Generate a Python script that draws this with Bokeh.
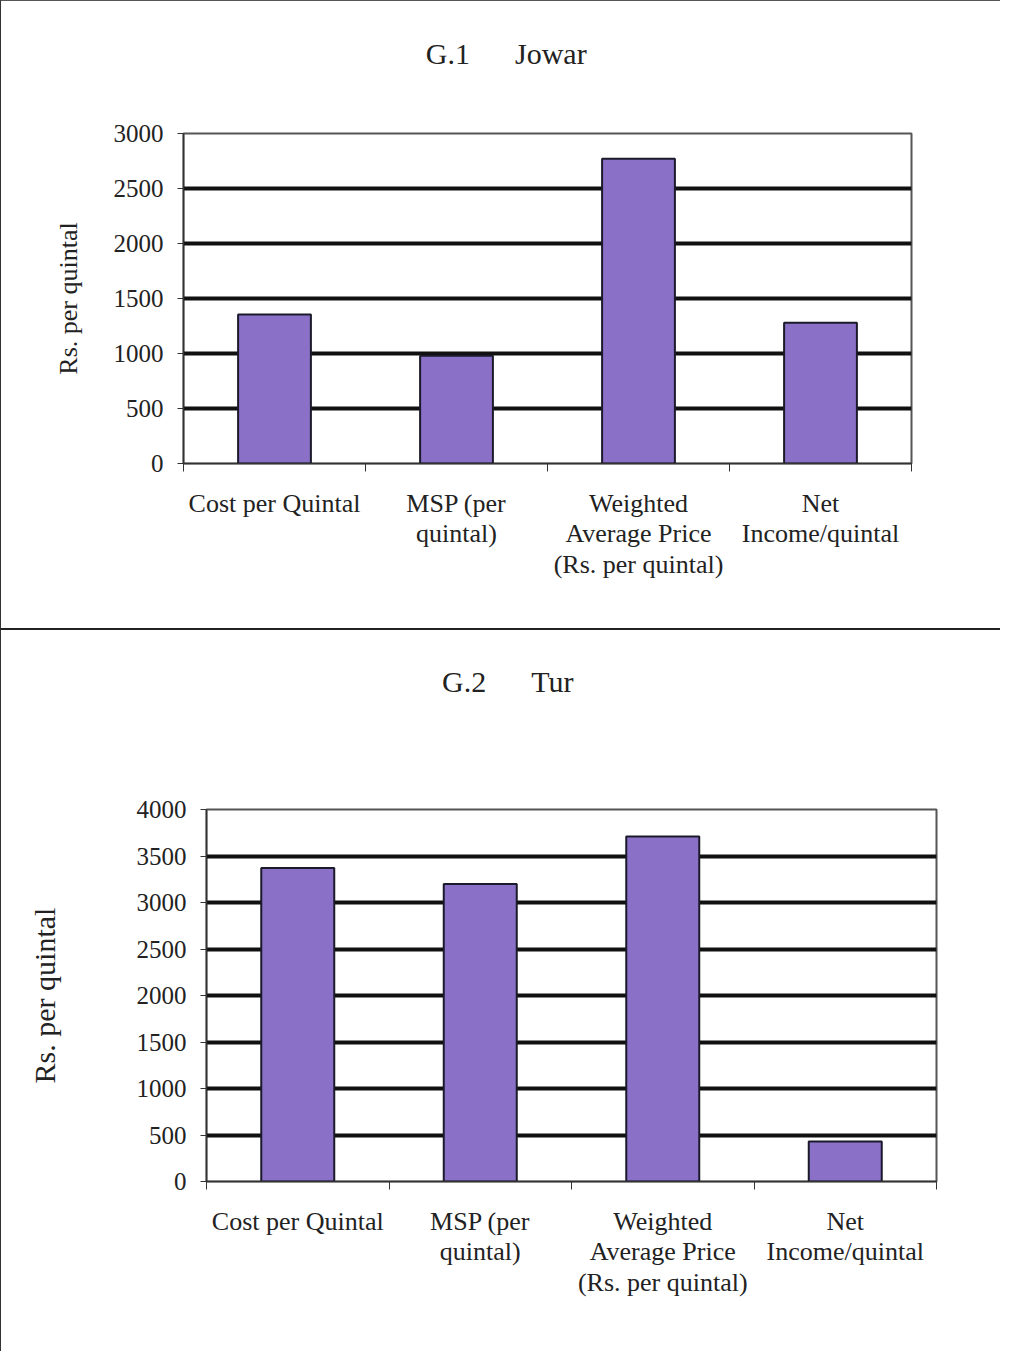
from bokeh.plotting import figure
from bokeh.models import Range1d, FixedTicker, LinearAxis
from bokeh.embed import file_html
from bokeh.resources import INLINE

categories = ["Cost per Quintal", "MSP (per\nquintal)",
              "Weighted\nAverage Price\n(Rs. per quintal)", "Net\nIncome/quintal"]
jowar_values = [1355, 980, 2770, 1280]
tur_values = [3370, 3200, 3710, 430]
jowar_ticks = [0, 500, 1000, 1500, 2000, 2500, 3000]
tur_ticks = [0, 500, 1000, 1500, 2000, 2500, 3000, 3500, 4000]
jowar_title = "G.1\u00a0\u00a0\u00a0\u00a0\u00a0\u00a0Jowar"
tur_title = "G.2\u00a0\u00a0\u00a0\u00a0\u00a0\u00a0Tur"
y_label = "Rs. per quintal"

FONT = "Liberation Serif"
BAR = "#8a70c6"


def make(title, values, ticks, width, height, bl, br, bt, bb, ylab_size, ylab_standoff,
         title_pad, title_standoff, styles):
    n = len(categories)
    centers = [i + 0.5 for i in range(n)]
    edges = list(range(n + 1))
    p = figure(width=width, height=height, x_range=Range1d(0, n),
               y_range=Range1d(ticks[0], ticks[-1]),
               output_backend="svg", toolbar_location=None,
               min_border_left=bl, min_border_right=br, min_border_top=bt, min_border_bottom=bb,
               background_fill_color="white", border_fill_color="white")
    p.styles = styles
    p.outline_line_color = "#555555"
    p.outline_line_width = 2

    # x axis below: labels at centres, tick marks at category boundaries
    xa = p.below[0]
    xa.ticker = FixedTicker(ticks=centers, minor_ticks=edges)
    xa.major_label_overrides = {c: lab for c, lab in zip(centers, categories)}
    xa.major_tick_line_color = None
    xa.minor_tick_in = 0
    xa.minor_tick_out = 8
    xa.minor_tick_line_color = "#333333"
    xa.axis_line_color = "#333333"
    xa.axis_line_width = 1.5
    xa.major_label_text_font = FONT
    xa.major_label_text_font_size = "26px"
    xa.major_label_text_color = "#222222"
    xa.major_label_text_line_height = 1.06
    xa.major_label_standoff = 17

    # title drawn as the label of a bare axis above the plot
    ta = LinearAxis(ticker=FixedTicker(ticks=[]),
                    axis_line_color=None, major_tick_line_color=None,
                    minor_tick_line_color=None, major_label_text_font_size="0px",
                    major_label_standoff=0, major_tick_out=0, major_tick_in=0,
                    minor_tick_out=0, minor_tick_in=0,
                    axis_label=title + "\u00a0" * title_pad, axis_label_text_font=FONT,
                    axis_label_text_font_size="30px", axis_label_text_font_style="normal",
                    axis_label_text_color="#222222", axis_label_standoff=title_standoff)
    p.add_layout(ta, "above")

    p.vbar(x=centers, top=values, width=0.4, fill_color=BAR,
           line_color="#1a1a2a", line_width=2)

    # y axis
    ya = p.left[0]
    ya.ticker = FixedTicker(ticks=ticks)
    ya.minor_tick_line_color = None
    ya.major_tick_in = 0
    ya.major_tick_out = 6
    ya.major_tick_line_color = "#333333"
    ya.axis_line_color = "#333333"
    ya.axis_line_width = 1.5
    ya.major_label_text_font = FONT
    ya.major_label_text_font_size = "25px"
    ya.major_label_text_color = "#222222"
    ya.major_label_standoff = 14
    ya.axis_label = y_label
    ya.axis_label_text_font = FONT
    ya.axis_label_text_font_size = ylab_size
    ya.axis_label_text_font_style = "normal"
    ya.axis_label_text_color = "#222222"
    ya.axis_label_standoff = ylab_standoff

    # grid: thick black lines at inner ticks
    p.xgrid.grid_line_color = None
    p.ygrid.ticker = FixedTicker(ticks=ticks[1:-1])
    p.ygrid.grid_line_color = "#111111"
    p.ygrid.grid_line_width = 4
    return p


p1 = make(jowar_title, jowar_values, jowar_ticks, 1000, 630, 182, 90, 132, 168, "26px", 28,
          11, 64,
          {"border-left": "1px solid #333", "border-top": "1px solid #555",
           "border-bottom": "2px solid #222"})
p2 = make(tur_title, tur_values, tur_ticks, 1000, 721, 205, 65, 179, 170, "30px", 73,
          17, 112,
          {"border-left": "1px solid #333"})

open("out.html", "w").write(file_html([p1, p2], INLINE))
